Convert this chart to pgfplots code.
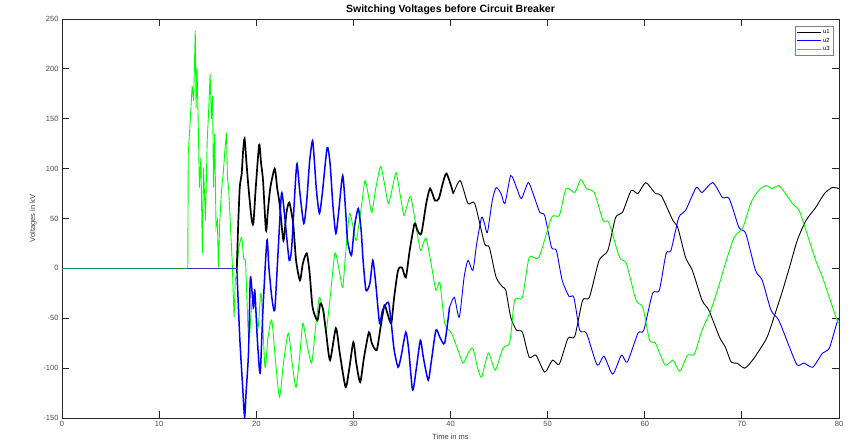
\documentclass[border=0pt]{standalone}
\usepackage{fontspec}
\setmainfont{Liberation Sans}
\usepackage{pgfplots}
\pgfplotsset{compat=1.18}
\usetikzlibrary{calc}
\definecolor{basegreen}{RGB}{30,140,80}
\definecolor{baseblue}{RGB}{50,50,180}
\begin{document}
\begin{tikzpicture}
\begin{axis}[
  scale only axis, width=777pt, height=399pt,
  xmin=0, xmax=80, ymin=-150, ymax=250,
  xtick={0,10,...,80}, ytick={-150,-100,...,250},
  tick align=inside, tick pos=both, major tick length=7pt,
  axis line style={black!85, line width=0.8pt},
  tick style={black!85, line width=0.8pt},
  /pgf/number format/assume math mode=true,
  tick label style={font=\fontsize{7.5}{9}\selectfont, text=black!70},
  label style={font=\fontsize{7.5}{9}\selectfont, text=black!75},
  xlabel={Time in ms}, ylabel={Voltages in kV},
  title={Switching Voltages before Circuit Breaker},
  title style={font=\bfseries\fontsize{10.5}{12}\selectfont, yshift=-5pt},
  legend style={at={(rel axis cs:1,1)}, anchor=north east, xshift=-6pt, yshift=-7pt,
    font=\fontsize{6}{6}\selectfont, draw=black!50, inner sep=1pt, row sep=-1pt},
  legend cell align=left,
  legend image code/.code={\draw[#1] (0pt,0pt) -- (24pt,0pt);},
]
% steady part (legend)
\addplot[black, line width=0.9pt, smooth, tension=0.4] coordinates {
(40.3,75)(41.0,88)(41.8,65)(42.5,65)(43.5,25)(44.0,21)(44.7,-9)(45.4,-19)(45.7,-22)
(46.2,-49)(46.8,-62)(47.4,-64)(48.1,-89)(48.8,-87)(49.7,-104)(50.5,-92)(51.2,-96)
(52.1,-70)(52.8,-68)(53.6,-32)(54.3,-29)(55.3,8)(56.2,18)(57.0,51)(57.7,56)(58.6,78)
(59.3,75)(60.1,86)(61.1,75)(61.7,73)(62.9,48)(63.4,41)(64.2,11)(64.9,-2)(65.9,-32)
(66.6,-42)(67.7,-69)(68.3,-79)(68.9,-94)(69.5,-95)(70.3,-100)(71.1,-92)(71.8,-82)
(72.6,-69)(73.3,-49)(74.2,-22)(74.9,1)(75.7,28)(76.6,48)(77.6,61)(78.5,75)(79.3,81)(80.0,80)};
\addlegendentry{u1}
\addplot[blue, line width=0.9pt, smooth, tension=0.4] coordinates {
(39.9,-39)(40.4,-29)(40.9,-49)(41.4,-9)(41.8,8)(42.3,-2)(42.7,25)(43.2,51)(43.5,45)
(43.8,36)(44.3,68)(44.7,81)(45.2,75)(45.6,65)(46.2,93)(46.8,81)(47.3,70)(48.0,86)
(48.5,75)(49.2,56)(49.7,53)(50.4,21)(50.9,18)(51.5,-12)(52.2,-28)(52.7,-29)(53.3,-62)
(54.0,-65)(55.1,-97)(55.8,-88)(56.7,-106)(57.6,-87)(58.2,-94)(59.3,-65)(59.9,-62)
(60.8,-25)(61.5,-22)(62.2,15)(62.7,18)(63.5,51)(64.2,58)(65.3,81)(65.9,76)(67.0,86)
(68.0,71)(68.7,70)(69.7,41)(70.4,35)(71.4,-2)(72.1,-12)(73.0,-42)(73.8,-52)(74.9,-79)
(75.7,-97)(76.4,-95)(77.3,-99)(78.3,-85)(79.0,-80)(79.8,-54)(80.0,-50)};
\addlegendentry{u2}
\addplot[green, line width=0.9pt, smooth, tension=0.4] coordinates {
(18.0,-5)(18.2,20)(18.5,31)(18.7,10)(18.9,5)
(19.15,-60)(19.3,-69)(19.5,-40)(19.75,-25)(20.0,-45)(20.2,-59)(20.5,-25)(20.9,-99)
(21.2,-70)(21.6,-52)(22.0,-95)(22.4,-129)(22.8,-95)(23.3,-65)(23.7,-95)(24.1,-119)
(24.5,-85)(24.8,-55)(25.2,-75)(25.7,-95)(26.1,-60)(26.5,-29)(26.9,-45)(27.2,-62)
(27.6,-30)(28.1,15)(28.5,0)(28.9,-19)(29.2,15)(29.6,55)(30.0,40)(30.3,28)(30.8,60)
(31.2,88)(31.6,70)(31.9,56)(32.3,80)(32.8,102)(33.2,85)(33.6,65)(34.0,80)(34.4,96)
(34.8,75)(35.2,53)(35.5,62)(35.9,72)(36.4,45)(36.9,18)(37.2,25)(37.5,30)(38.0,5)
(38.5,-22)(38.9,-14)(39.4,-55)(40.1,-65)(40.7,-80)(41.3,-95)(41.8,-85)(42.3,-80)
(42.8,-100)(43.2,-109)(43.9,-85)(44.6,-102)(45.4,-80)(46.1,-74)(46.6,-32)(47.4,-29)
(48.1,11)(49.1,11)(50.4,51)(51.2,53)(51.9,80)(52.8,76)(53.4,89)(54.0,80)(54.8,76)
(55.7,48)(56.3,46)(57.4,11)(58.1,5)(59.1,-32)(59.8,-39)(60.5,-72)(61.1,-75)(62.1,-97)
(62.9,-92)(63.6,-103)(64.4,-87)(65.1,-86)(65.9,-62)(66.8,-42)(67.7,-15)(68.3,5)
(69.2,31)(70.1,41)(70.9,65)(71.7,78)(72.5,83)(73.1,80)(73.8,83)(74.5,75)(75.2,65)
(75.9,58)(76.6,38)(77.6,8)(78.3,-9)(79.0,-29)(79.8,-52)(80.0,-55)};
\addlegendentry{u3}
% transient parts
\addplot[black, line width=1.7pt, smooth, tension=0.4, forget plot] coordinates {
(18.0,0)(18.13,41)(18.3,81)(18.5,95)(18.65,118)(18.8,130)(19.0,105)(19.2,81)(19.5,51)
(19.7,45)(19.95,81)(20.3,124)(20.5,105)(20.7,88)(21.0,38)(21.2,58)(21.45,81)(21.9,100)
(22.15,81)(22.4,65)(22.8,28)(23.1,55)(23.4,66)(23.8,45)(24.1,8)(24.5,-12)(24.8,5)
(25.2,15)(25.5,-5)(25.8,-39)(26.3,-52)(26.6,-35)(26.9,-42)(27.2,-65)(27.6,-92)
(28.2,-60)(28.6,-85)(29.2,-119)(29.6,-99)(30.0,-74)(30.3,-95)(30.7,-114)(31.1,-89)
(31.6,-64)(31.9,-75)(32.4,-82)(32.8,-59)(33.2,-37)(33.5,-45)(33.9,-55)(34.2,-29)
(34.6,-2)(35.0,1)(35.4,-9)(35.8,18)(36.3,45)(36.6,38)(37.0,35)(37.5,65)(37.9,80)
(38.4,68)(38.8,70)(39.2,85)(39.6,95)(40.3,75)};
\addplot[blue, line width=1.5pt, smooth, tension=0.4, forget plot] coordinates {
(18.0,0)(18.3,-69)(18.6,-119)(18.8,-149)(18.95,-125)(19.2,-85)(19.4,-9)(19.7,-39)
(19.85,-22)(20.1,-69)(20.4,-105)(20.7,-39)(21.1,28)(21.3,1)(21.6,-29)(21.9,-42)(22.2,8)
(22.6,75)(22.9,55)(23.1,35)(23.4,8)(23.65,21)(24.0,81)(24.2,105)(24.5,75)(24.9,45)
(25.2,68)(25.5,108)(25.8,128)(26.0,105)(26.2,78)(26.5,55)(26.8,75)(27.3,121)(27.6,105)
(27.9,62)(28.2,35)(28.5,58)(28.9,93)(29.2,58)(29.4,28)(29.8,13)(30.1,41)(30.5,60)
(30.8,38)(31.0,8)(31.3,-22)(31.7,-15)(32.0,8)(32.3,-15)(32.7,-55)(33.0,-42)(33.6,-34)
(33.9,-55)(34.2,-82)(34.6,-99)(34.9,-89)(35.4,-64)(35.7,-82)(36.1,-122)(36.5,-99)
(36.9,-72)(37.2,-89)(37.7,-112)(38.0,-95)(38.5,-62)(38.9,-69)(39.4,-75)(39.9,-39)};
\addplot[green, line width=0.9pt, forget plot] coordinates {
(12.95,0)(13.0,115)(13.2,148)(13.4,183)(13.55,168)(13.72,238)(13.8,161)(13.9,201)
(14.0,158)(14.15,81)(14.3,111)(14.45,15)(14.57,101)(14.77,48)(14.95,128)(15.1,158)
(15.25,195)(15.38,150)(15.5,173)(15.6,81)(15.72,135)(15.86,41)(16.0,48)(16.1,1)
(16.25,48)(16.42,78)(16.6,95)(16.77,118)(16.93,136)(17.04,91)(17.17,78)(17.38,35)
(17.52,8)(17.62,-22)(17.72,-49)(17.85,-10)(18.0,-5)};
\addplot[baseblue, line width=0.9pt, forget plot] coordinates {(12.95,0)(18.0,0)};
\addplot[basegreen, line width=0.9pt, forget plot] coordinates {(0,0)(12.95,0)};
\end{axis}
\pgfresetboundingbox
\path ($(current axis.south west)+(-62pt,-27pt)$) rectangle ($(current axis.north east)+(15pt,19pt)$);
\end{tikzpicture}
\end{document}
